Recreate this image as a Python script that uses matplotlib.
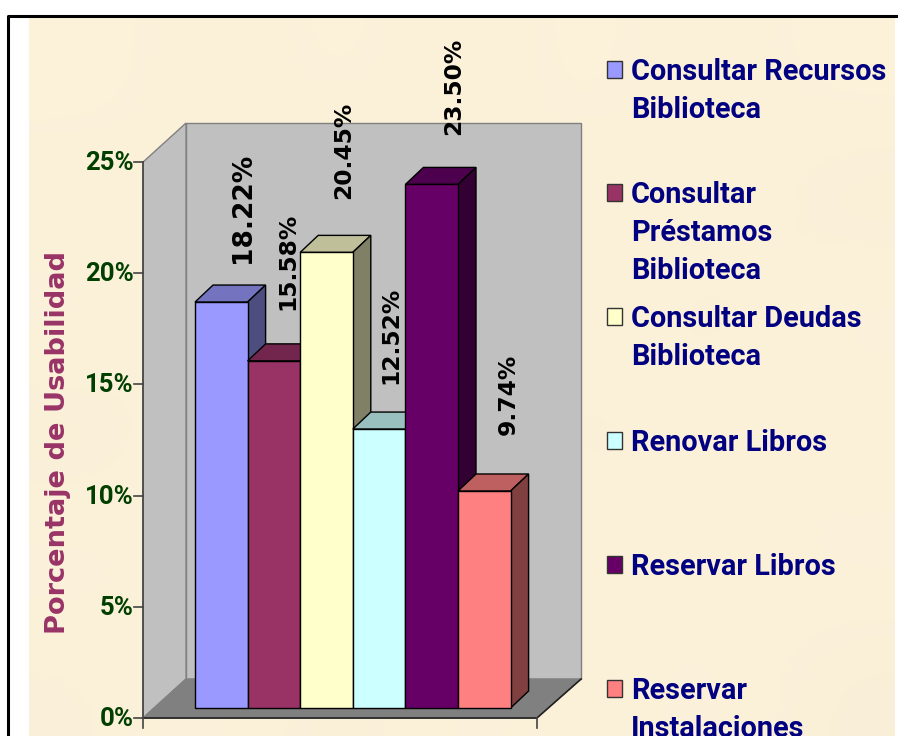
import numpy as np
import matplotlib
matplotlib.use('Agg')
import matplotlib.pyplot as plt
from matplotlib.patches import Polygon, Rectangle

plt.rcParams['font.family'] = ['Liberation Sans', 'DejaVu Sans']

# datos
categorias = ['Consultar Recursos\nBiblioteca', 'Consultar\nPréstamos\nBiblioteca',
              'Consultar Deudas\nBiblioteca', 'Renovar Libros',
              'Reservar Libros', 'Reservar\nInstalaciones']
valores = [18.22, 15.58, 20.45, 12.52, 23.50, 9.74]
etiquetas = ['18.22%', '15.58%', '20.45%', '12.52%', '23.50%', '9.74%']
ticks_y = [0, 5, 10, 15, 20, 25]
ticks_txt = ['0%', '5%', '10%', '15%', '20%', '25%']
titulo_y = 'Porcentaje de Usabilidad'

# estilos
colores = ['#9999FF', '#993366', '#FFFFCC', '#CCFFFF', '#660066', '#FF8080']
off_x = [22, 14, 17, 12, 22, 24]       # desplazamiento de etiqueta (px)
off_y = [39, 51, 53, 45, 49, 56]
tam_etq = [19, 16.8, 16.8, 16.8, 16.8, 16.8]
leg_y = [72, 195, 319, 443, 567, 691]  # primera linea de cada leyenda (px)
tinte = [[1.00, 0.99, 1.00, 0.99, 1.00, 0.99, 1.00],
         [0.99, 1.00, 0.985, 1.00, 0.99, 1.00, 0.985],
         [1.00, 0.985, 1.00, 0.99, 1.00, 0.985, 1.00],
         [0.985, 1.00, 0.99, 1.00, 0.985, 1.00, 0.99],
         [1.00, 0.99, 1.00, 0.985, 1.00, 0.99, 1.00],
         [0.99, 1.00, 0.985, 1.00, 0.99, 1.00, 0.985]]

W, H = 898, 736
fig = plt.figure(figsize=(W / 100, H / 100), dpi=100, facecolor='white')

# capa en pixeles: fondo, marco y leyenda
bg = fig.add_axes([0, 0, 1, 1], zorder=0)
bg.set_xlim(0, W)
bg.set_ylim(H, 0)
bg.axis('off')
base = np.array([253, 242, 218]) / 255
textura = np.clip(np.array(tinte)[:, :, None] * base, 0, 1)
bg.imshow(textura, extent=(29, 895, H, 17), interpolation='bicubic', aspect='auto', zorder=0)
bg.set_xlim(0, W)
bg.set_ylim(H, 0)
bg.plot([8, 8, W], [H, 16, 16], color='black', lw=2.2, solid_capstyle='butt', zorder=1)

# capa del grafico: x en categorias, y en porcentaje
ax = fig.add_axes([0, 0, 1, 1], zorder=1)
ax.patch.set_alpha(0)
ax.axis('off')
px_x = 52.6
px_y = 22.28
ax.set_xlim(-195 / px_x - 0.5, (W - 195) / px_x - 0.5)
ax.set_ylim((708 - H) / px_y, 708 / px_y)

# caja 3D
x0, x1 = -1.487, 6.0           # plano frontal
xb0, xb1 = -0.67, 6.84         # plano trasero
y0 = -10 / px_y
yb = 29 / px_y
ytop = 25 * 22.24 / px_y
gris = '#C0C0C0'
ax.add_patch(Polygon([(xb0, yb), (xb1, yb), (xb1, yb + ytop), (xb0, yb + ytop)],
                     fc=gris, ec='#808080', lw=1, zorder=1))
ax.add_patch(Polygon([(x0, y0), (xb0, yb), (xb0, yb + ytop), (x0, y0 + ytop)],
                     fc=gris, ec='#808080', lw=1, zorder=1))
ax.add_patch(Polygon([(x0, y0), (x1, y0), (xb1, yb), (xb0, yb)],
                     fc='#808080', ec='#808080', lw=1, zorder=1))
ax.plot([x0, x1, xb1], [y0, y0, yb], color='#222222', lw=1.2, zorder=2)
ax.plot([x0, x0], [y0 - 10 / px_y, y0 + ytop], color='#444444', lw=1.2, zorder=2)
ax.plot([x1, x1], [y0, y0 - 10 / px_y], color='#444444', lw=1.2, zorder=2)

# ticks del eje y
for t, s in zip(ticks_y, ticks_txt):
    yy = y0 + t * 22.24 / px_y
    ax.plot([x0 - 9 / px_x, x0], [yy, yy], color='#444444', lw=1.2, zorder=2)
    ax.text(x0 - 9.5 / px_x, yy - 1 / px_y, s, ha='right', va='center', fontsize=18.5,
            fontweight='bold', color='#003F00', zorder=3, family=['Roboto', 'Liberation Sans'])

ax.text(-3.11, 11.9, titulo_y, rotation=90, ha='center', va='center', fontsize=19.6,
        fontweight='bold', color='#993366', zorder=3, family=['DejaVu Sans'])

# barras
dx = 18 / px_x
dy = 17 / px_y
for i, (v, c) in enumerate(zip(valores, colores)):
    z = 4 + i
    l, r = i - 0.5, i + 0.5
    rgb = np.array(matplotlib.colors.to_rgb(c))
    ax.bar(i, v, width=1, color=c, edgecolor='black', linewidth=1, zorder=z + 0.2)
    ax.add_patch(Polygon([(l, v), (r, v), (r + dx, v + dy), (l + dx, v + dy)],
                         fc=rgb * 0.75, ec='black', lw=1, zorder=z))
    ax.add_patch(Polygon([(r, 0), (r + dx, dy), (r + dx, v + dy), (r, v)],
                         fc=rgb * 0.5, ec='black', lw=1, zorder=z))

for i, (v, s) in enumerate(zip(valores, etiquetas)):
    ax.annotate(s, (i, v), xytext=(off_x[i] * 0.72, off_y[i] * 0.72),
                textcoords='offset points', rotation=90, ha='center', va='bottom',
                fontsize=tam_etq[i], fontweight='bold', color='black', zorder=20,
                family=['DejaVu Sans'])

# leyenda
ley = fig.add_axes([0, 0, 1, 1], zorder=2)
ley.patch.set_alpha(0)
ley.axis('off')
ley.set_xlim(0, W)
ley.set_ylim(H, 0)
for y, c, s in zip(leg_y, colores, categorias):
    ley.add_patch(Rectangle((607, y - 11), 15, 17, fc=c, ec='#333333', lw=1))
    for j, linea in enumerate(s.split('\n')):
        ley.text(631, y + j * 38, linea, ha='left', va='center', fontsize=20.8,
                 fontweight='bold', color='#000080', clip_on=False, family=['Roboto', 'Liberation Sans'])

fig.savefig('out.png', dpi=100)
